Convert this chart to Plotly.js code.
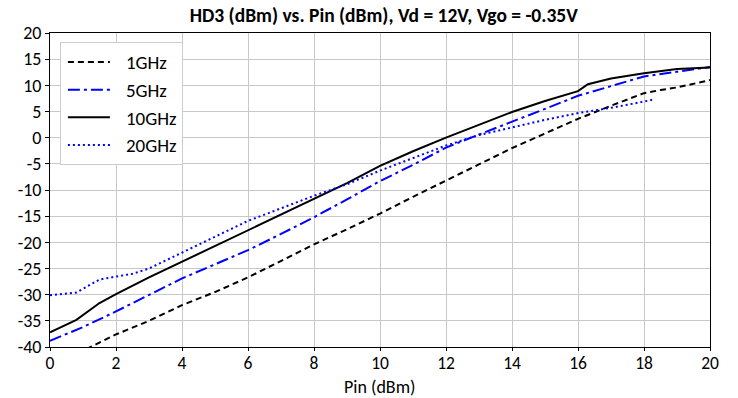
<!DOCTYPE html>
<html>
<head>
<meta charset="utf-8">
<script src="https://cdn.plot.ly/plotly-3.0.1.min.js"></script>
<style>body{margin:0;padding:0;background:#fff}#chart{width:738px;height:398px}</style>
</head>
<body>
<div id="chart"></div>
<script>
const seriesNames = ["1GHz", "5GHz", "10GHz", "20GHz"];

const x1GHz = [0, 1, 2, 3, 4, 5, 6, 7, 8, 9, 10, 11, 12, 13, 14, 15, 16, 17, 18, 18.5, 19, 20];
const y1GHz = [-43.5, -40.7, -37.6, -35, -32, -29.5, -26.7, -23.6, -20.4, -17.5, -14.5, -11.3, -8.2, -5.1, -2.0, 0.8, 3.6, 6.1, 8.5, 9.1, 9.6, 11.0];

const x5GHz = [0, 1, 2, 3, 4, 5, 6, 7, 8, 9, 10, 11, 12, 13, 14, 15, 16, 17, 18, 19, 20];
const y5GHz = [-38.8, -36.2, -33.2, -30, -26.9, -24.2, -21.5, -18.4, -15.2, -11.8, -8.3, -5.2, -1.9, 0.6, 3.0, 5.5, 8.0, 9.9, 11.7, 12.6, 13.5];

const x10GHz = [0, 0.8, 1.5, 2, 3, 4, 5, 6, 7, 8, 9, 10, 11, 12, 13, 14, 15, 16, 16.3, 17, 18, 19, 20];
const y10GHz = [-37.2, -34.8, -31.6, -29.9, -26.7, -23.7, -20.7, -17.8, -14.8, -11.8, -8.7, -5.4, -2.6, 0.0, 2.5, 4.9, 7.0, 8.9, 10.2, 11.3, 12.3, 13.1, 13.4];

const x20GHz = [0, 0.8, 1.5, 2, 2.5, 3, 4, 5, 6, 7, 8, 9, 10, 11, 12, 13, 14, 15, 16, 17, 18, 18.3];
const y20GHz = [-30.1, -29.6, -27.1, -26.6, -26.0, -25.0, -22.0, -19.0, -15.9, -13.5, -11.1, -8.9, -6.3, -3.9, -1.5, 0.5, 2.0, 3.4, 4.7, 5.7, 6.9, 7.3];

const xTicks = [0, 2, 4, 6, 8, 10, 12, 14, 16, 18, 20];
const yTicks = [-40, -35, -30, -25, -20, -15, -10, -5, 0, 5, 10, 15, 20];

const FONT = "Carlito, Calibri, 'Open Sans', 'Liberation Sans', sans-serif";

const traces = [
  {x: x1GHz, y: y1GHz, name: seriesNames[0], mode: "lines", line: {color: "#000000", width: 2, dash: "6px,4px"}},
  {x: x5GHz, y: y5GHz, name: seriesNames[1], mode: "lines", line: {color: "#0000ff", width: 2, dash: "12px,4px,3px,4px"}},
  {x: x10GHz, y: y10GHz, name: seriesNames[2], mode: "lines", line: {color: "#000000", width: 2}},
  {x: x20GHz, y: y20GHz, name: seriesNames[3], mode: "lines", line: {color: "#0000ff", width: 2, dash: "2px,3px"}}
];

const layout = {
  width: 738, height: 398,
  margin: {l: 50, r: 28, t: 33, b: 51},
  paper_bgcolor: "#ffffff", plot_bgcolor: "#ffffff",
  font: {family: FONT, size: 18, color: "#000"},
  title: {text: "<b>HD3 (dBm) vs. Pin (dBm), Vd = 12V, Vgo = -0.35V</b>", font: {family: FONT, size: 19.5, color: "#000"}, x: 0.52, xanchor: "center", yref: "container", y: 0.962, yanchor: "middle"},
  xaxis: {
    range: [0, 20], tickvals: xTicks, ticktext: xTicks.map(String),
    showgrid: true, gridcolor: "#c8c8c8", gridwidth: 1,
    showline: true, linecolor: "#000", linewidth: 1, mirror: true,
    ticks: "outside", ticklen: 3, tickcolor: "#000",
    zeroline: false, tickfont: {size: 17.5}, ticklabelstandoff: -3
  },
  yaxis: {
    range: [-40, 20], tickvals: yTicks, ticktext: yTicks.map(String),
    showgrid: true, gridcolor: "#c8c8c8", gridwidth: 1,
    showline: true, linecolor: "#000", linewidth: 1, mirror: true,
    ticks: "outside", ticklen: 4, tickcolor: "#000",
    zeroline: false, tickfont: {size: 18}
  },
  annotations: [{
    text: "Pin (dBm)", xref: "paper", yref: "paper", x: 0.5, y: -0.127,
    xanchor: "center", yanchor: "middle", showarrow: false, font: {size: 18}
  }],
  legend: {
    x: 0.015, y: 0.971, xanchor: "left", yanchor: "top",
    bgcolor: "#ffffff", bordercolor: "#cccccc", borderwidth: 1,
    font: {size: 19}, tracegroupgap: 0, itemwidth: 55
  },
  showlegend: true
};

Plotly.newPlot("chart", traces, layout, {staticPlot: true}).then(function (gd) {
  const legend = gd.querySelector(".legend");
  if (!legend) return;
  legend.querySelectorAll("g.legendlines path").forEach(function (p) { p.setAttribute("d", "M7,0h42"); });
});
</script>
</body>
</html>
